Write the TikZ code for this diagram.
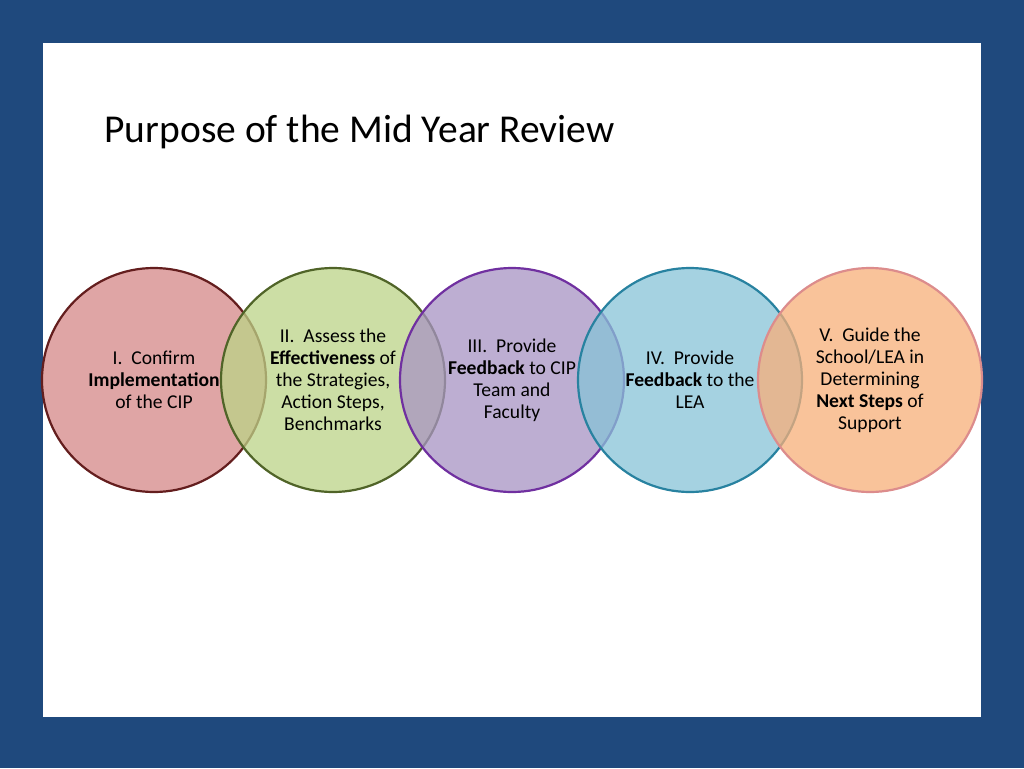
\documentclass[tikz,border=0pt]{standalone}
\usepackage{fontspec}
\setmainfont{Carlito}
\begin{document}
\begin{tikzpicture}[x=1pt,y=-1pt]
\definecolor{bg}{RGB}{31,73,125}
\definecolor{fa}{RGB}{213,135,135}\definecolor{da}{RGB}{100,30,30}
\definecolor{fb}{RGB}{188,211,135}\definecolor{db}{RGB}{80,100,40}
\definecolor{fc}{RGB}{168,148,195}\definecolor{dc}{RGB}{112,48,160}
\definecolor{fd}{RGB}{135,195,215}\definecolor{dd}{RGB}{40,130,160}
\definecolor{fe}{RGB}{248,175,121}\definecolor{de}{RGB}{220,140,140}
\tikzset{circ/.style={circle,minimum size=224pt,line width=2.2pt,fill opacity=0.75,inner sep=0pt},
lbl/.style={align=center,font=\fontsize{19.6}{22}\selectfont,text=black}}
\fill[bg] (0,0) rectangle (1024,768);
\fill[white] (43,43) rectangle (981,717);
\node[anchor=west,font=\fontsize{39.5}{44}\selectfont] (title) at (101,132) {Purpose of the Mid Year Review};
\node[circ,fill=fa,draw=da] (c1) at (154,380) {};
\node[circ,fill=fb,draw=db] (c2) at (333,380) {};
\node[circ,fill=fc,draw=dc] (c3) at (512,380) {};
\node[circ,fill=fd,draw=dd] (c4) at (690,380) {};
\node[circ,fill=fe,draw=de] (c5) at (870,380) {};
\node[lbl] (t1) at (154,380) {I.\ \ Confirm\\\textbf{Implementation}\\of the CIP};
\node[lbl] (t2) at (333,380) {II.\ \ Assess the\\\textbf{Effectiveness} of\\the Strategies,\\Action Steps,\\Benchmarks};
\node[lbl] (t3) at (512,380) {III.\ \ Provide\\\textbf{Feedback} to CIP\\Team and\\Faculty};
\node[lbl] (t4) at (690,380) {IV.\ \ Provide\\\textbf{Feedback} to the\\LEA};
\node[lbl] (t5) at (870,380) {V.\ \ Guide the\\School/LEA in\\Determining\\\textbf{Next Steps} of\\Support};
\end{tikzpicture}
\end{document}
